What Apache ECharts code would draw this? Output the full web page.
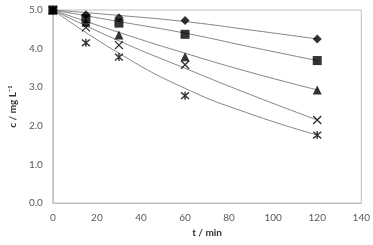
<!DOCTYPE html>
<html>
<head>
<meta charset="utf-8">
<script src="https://cdn.jsdelivr.net/npm/echarts@6/dist/echarts.min.js"></script>
<style>
  html, body { margin: 0; padding: 0; background: #fff; }
  #chart { width: 373px; height: 245px; }
</style>
</head>
<body>
<div id="chart"></div>
<script>
// 采样时间与测量值
const times = [0, 15, 30, 60, 120];
const diamondVals = [5.0, 4.88, 4.8, 4.73, 4.25];
const squareVals = [5.0, 4.78, 4.66, 4.37, 3.69];
const triangleVals = [5.0, 4.68, 4.35, 3.79, 2.93];
const crossVals = [5.0, 4.55, 4.09, 3.58, 2.15];
const starVals = [5.0, 4.15, 3.78, 2.78, 1.76];

// 拟合曲线读数
const fitTimes = [0, 30, 60, 90, 120];
const diamondFit = [5.0, 4.86, 4.7, 4.48, 4.25];
const squareFit = [5.0, 4.7, 4.4, 4.04, 3.69];
const triangleFit = [5.0, 4.42, 3.88, 3.38, 2.93];
const crossFit = [5.0, 4.2, 3.49, 2.8, 2.15];
const starFit = [5.0, 3.88, 2.97, 2.3, 1.76];

const xTicks = [0, 20, 40, 60, 80, 100, 120, 140];
const yTicks = ['0.0', '1.0', '2.0', '3.0', '4.0', '5.0'];

const crossPath = 'path://M0,0L10,10M10,0L0,10';
const starPath = 'path://M0,0L10,10M10,0L0,10M5,-1L5,11';

function pairs(xs, ys) {
  return xs.map((x, i) => [x, ys[i]]);
}

function fitSeries(vals) {
  return {
    type: 'line',
    data: pairs(fitTimes, vals),
    smooth: true,
    showSymbol: false,
    silent: true,
    lineStyle: { color: '#858585', width: 1 },
    z: 1
  };
}

function markSeries(vals, symbol, size, stroked) {
  return {
    type: 'scatter',
    data: pairs(times, vals),
    symbol: symbol,
    symbolSize: size,
    itemStyle: stroked
      ? { color: 'none', borderColor: '#000', borderWidth: 1.4 }
      : { color: '#000' },
    z: 3
  };
}

const chart = echarts.init(document.getElementById('chart'));
chart.setOption({
  animation: false,
  grid: { left: 47, right: 11, top: 10, bottom: 42, show: true, borderColor: '#bfbfbf', borderWidth: 1 },
  xAxis: {
    type: 'value',
    min: 0, max: 140, interval: 20,
    name: 't / min',
    nameLocation: 'middle',
    nameGap: 25,
    nameTextStyle: { fontFamily: 'Lato', fontWeight: 'bold', fontSize: 10, color: '#333' },
    axisLine: { lineStyle: { color: '#bfbfbf' } },
    axisTick: { show: false },
    splitLine: { show: false },
    axisLabel: { fontFamily: 'Lato', fontSize: 10, color: '#595959', margin: 10,
      formatter: v => xTicks.includes(v) ? String(v) : '' }
  },
  yAxis: {
    type: 'value',
    min: 0, max: 5, interval: 1,
    name: 'c / mg L\u207B\u00B9',
    nameLocation: 'middle',
    nameGap: 30,
    nameTextStyle: { fontFamily: 'Lato', fontWeight: 'bold', fontSize: 10, color: '#333' },
    axisLine: { show: true, lineStyle: { color: '#bfbfbf' } },
    axisTick: { show: false },
    splitLine: { show: false },
    axisLabel: { fontFamily: 'Lato', fontSize: 10, color: '#595959', margin: 10,
      formatter: v => yTicks[Math.round(v)] }
  },
  series: [
    fitSeries(diamondFit),
    fitSeries(squareFit),
    fitSeries(triangleFit),
    fitSeries(crossFit),
    fitSeries(starFit),
    markSeries(diamondVals, 'diamond', 9, false),
    markSeries(squareVals, 'rect', 9, false),
    markSeries(triangleVals, 'triangle', 9, false),
    markSeries(crossVals, crossPath, 8, true),
    markSeries(starVals, starPath, 8, true)
  ]
});
</script>
</body>
</html>
